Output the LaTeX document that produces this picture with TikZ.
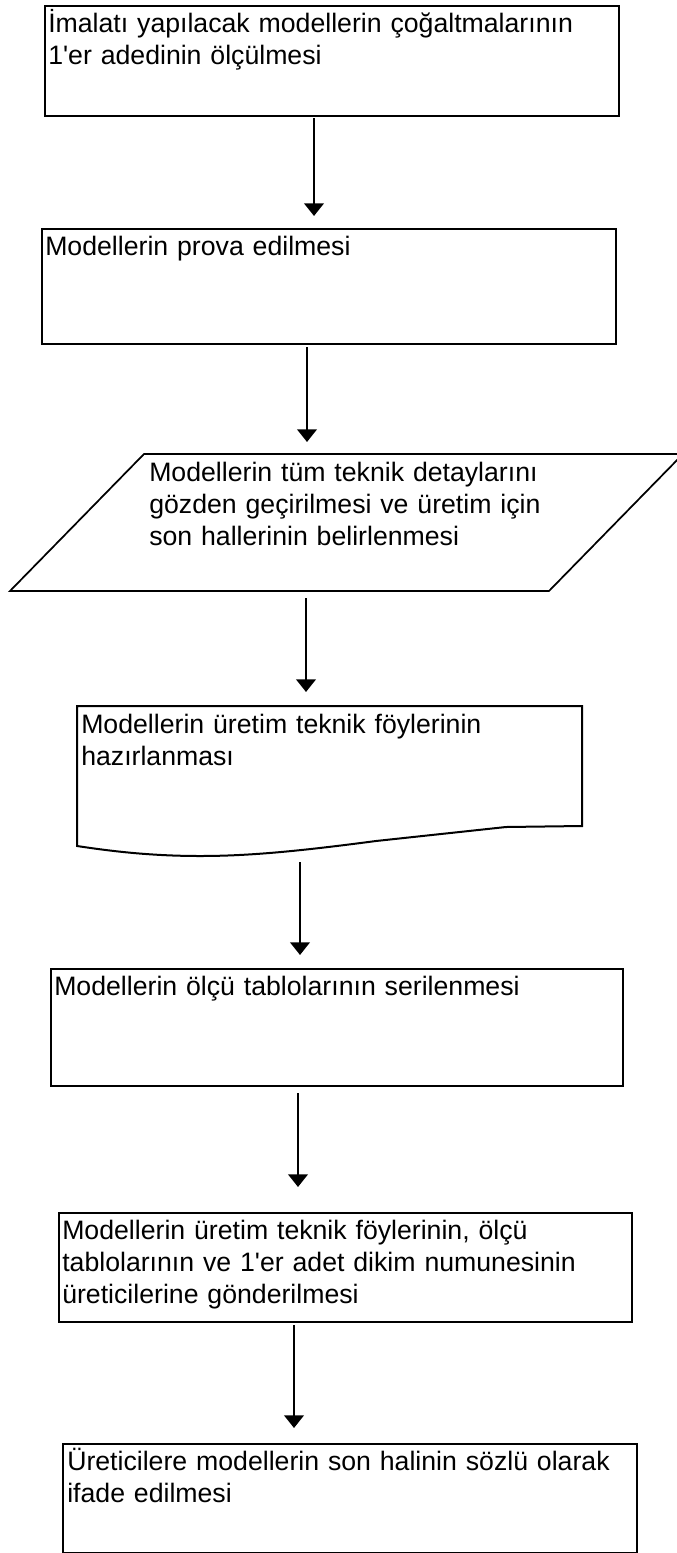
\documentclass[tikz,border=0pt]{standalone}
\usepackage{fontspec}
\setmainfont{Liberation Sans}[Ligatures=TeXOff]
\usetikzlibrary{arrows.meta,calc}
\begin{document}
\begin{tikzpicture}[x=0.75pt,y=-0.75pt,
  procbox/.style={draw, line width=1.5pt, rectangle, inner sep=0pt, anchor=north west},
  shapeline/.style={draw, line width=1.3pt, line join=miter},
  steptext/.style={anchor=base west, inner sep=0pt, align=left, text width=440pt,
    font=\fontsize{20pt}{24pt}\selectfont},
  flow/.style={line width=2.1pt, -{Triangle[width=14.5pt,length=9.5pt]}}]

% page
\fill[white] (0,0) rectangle (676,1553);
\useasboundingbox (0,0) rectangle (676,1553);

% step 1
\node[procbox, minimum width=430.5pt, minimum height=82.5pt] (b1) at (44,5) {};
\node[steptext] (t1) at ($(b1.north west)+(4,27)$)
  {İmalatı yapılacak modellerin çoğaltmalarının\\1'er adedinin ölçülmesi};

% step 2
\node[procbox, minimum width=430.5pt, minimum height=86.25pt] (b2) at (41,228) {};
\node[steptext] (t2) at ($(b2.north west)+(4,27)$) {Modellerin prova edilmesi};

% step 3: data (parallelogram)
\coordinate (p1) at (10,591);
\coordinate (p2) at (144,454);
\coordinate (p3) at (683,454);
\coordinate (p4) at (549,591);
\draw[shapeline] (p1) -- (p2) -- (p3) -- (p4) -- cycle;
\node[steptext] (t3) at ($(p2)+(5,27)$)
  {Modellerin tüm teknik detaylarını\\gözden geçirilmesi ve üretim için\\son hallerinin belirlenmesi};

% step 4: document
\coordinate (d1) at (77,706);
\coordinate (d2) at (582,706);
\coordinate (d3) at (582,826);
\coordinate (d4) at (77,846);
\draw[shapeline, line width=1.5pt] (d4) -- (d1) -- (d2) -- (d3) -- (506,827) -- (376,841)
  .. controls (300,851) and (250,856) .. (200,856)
  .. controls (150,856) and (110,851) .. (d4) -- cycle;
\node[steptext] (t4) at ($(d1)+(4,27)$)
  {Modellerin üretim teknik föylerinin\\hazırlanması};

% step 5
\node[procbox, minimum width=429pt, minimum height=87.75pt] (b5) at (50,968) {};
\node[steptext] (t5) at ($(b5.north west)+(4,27)$) {Modellerin ölçü tablolarının serilenmesi};

% step 6
\node[procbox, minimum width=429.75pt, minimum height=81.75pt] (b6) at (58,1212) {};
\node[steptext] (t6) at ($(b6.north west)+(4,27)$)
  {Modellerin üretim teknik föylerinin, ölçü\\tablolarının ve 1'er adet dikim numunesinin\\üreticilerine gönderilmesi};

% step 7
\node[procbox, minimum width=430.5pt, minimum height=81.75pt] (b7) at (62,1443) {};
\node[steptext] (t7) at ($(b7.north west)+(5,27)$)
  {Üreticilere modellerin son halinin sözlü olarak\\ifade edilmesi};

% connectors
\coordinate (a1s) at (314,118);  \coordinate (a1e) at (314,216);
\coordinate (a2s) at (307,347);  \coordinate (a2e) at (307,442);
\coordinate (a3s) at (306,598);  \coordinate (a3e) at (306,692);
\coordinate (a4s) at (300,862);  \coordinate (a4e) at (300,955);
\coordinate (a5s) at (298,1093); \coordinate (a5e) at (298,1187);
\coordinate (a6s) at (294,1325); \coordinate (a6e) at (294,1428);
\draw[flow] (a1s) -- (a1e);
\draw[flow] (a2s) -- (a2e);
\draw[flow] (a3s) -- (a3e);
\draw[flow] (a4s) -- (a4e);
\draw[flow] (a5s) -- (a5e);
\draw[flow] (a6s) -- (a6e);
\end{tikzpicture}
\end{document}
